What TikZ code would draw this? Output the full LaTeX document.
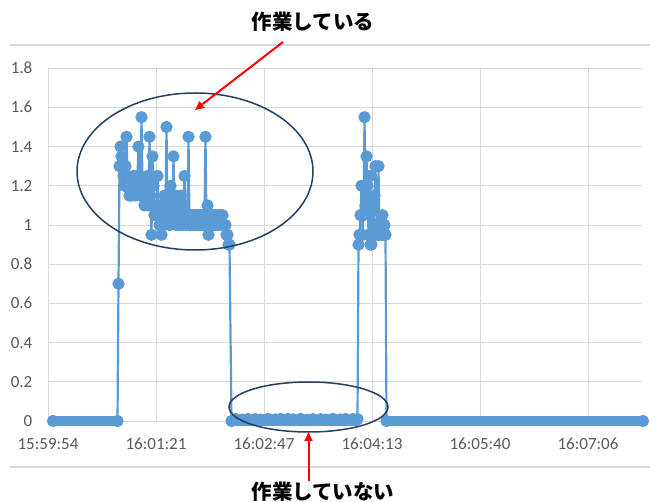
\documentclass[tikz,border=0pt]{standalone}
\usepackage{fontspec}
\setmainfont{Carlito}
\newfontfamily\jpfont{Noto Sans CJK JP}
\usetikzlibrary{arrows.meta,shapes.geometric}
\definecolor{seriesc}{HTML}{5B9BD5}
\definecolor{gridc}{HTML}{D9D9D9}
\definecolor{labelc}{HTML}{595959}
\definecolor{ringc}{HTML}{243F60}
\tikzset{
  gridline/.style={draw=gridc, line width=0.9pt},
  frameline/.style={draw=gridc, line width=1.3pt},
  seriesline/.style={draw=seriesc, line width=2.2pt, line join=round},
  dot/.style={fill=seriesc},
  zerobar/.style={draw=seriesc, line width=9.6pt, line cap=round},
  ylab/.style={text=labelc, font=\fontsize{17}{20}\selectfont, anchor=base east, inner sep=0pt},
  xlab/.style={text=labelc, font=\fontsize{17}{20}\selectfont, anchor=base, inner sep=0pt},
  ring/.style={draw=ringc, line width=1.5pt, ellipse, inner sep=0pt, outer sep=0pt},
  jplabel/.style={font=\jpfont\bfseries\fontsize{20.5}{24}\selectfont, text=black, inner sep=0pt},
  redarrow/.style={draw=red, line width=2pt, -{Triangle[length=9pt,width=8pt]}}
}
\begin{document}
\begin{tikzpicture}[x=1pt,y=-1pt]
\useasboundingbox (0,0) rectangle (657,502);
\fill[white] (0,0) rectangle (657,502);
% chart frame
\draw[frameline] (10,45) -- (650,45);
\draw[frameline] (10,467) -- (650,467);
% grid
\foreach \v in {0,...,9} \draw[gridline] (48,{421-39.2*\v}) -- (642,{421-39.2*\v});
\foreach \x in {48,156,264,372,480,588} \draw[gridline] (\x,68) -- (\x,421);
% y labels
\foreach \v/\t in {0/0,1/0.2,2/0.4,3/0.6,4/0.8,5/1,6/1.2,7/1.4,8/1.6,9/1.8}
  \node[ylab] (y\v) at (32.5,{421-39.2*\v+5.5}) {\t};
% x labels
\foreach \x/\t [count=\i] in {48/15:59:54,156/16:01:21,264/16:02:47,372/16:04:13,480/16:05:40,588/16:07:06}
  \node[xlab] (x\i) at (\x,449.5) {\t};
% data
\begin{scope}[shift={(0,421)}, y=196pt]
\draw[zerobar] (53,0) -- (117.5,0);
\draw[zerobar] (232,0) -- (357,0);
\draw[zerobar] (389,0) -- (643,0);
\foreach \x in {233,235.5,...,356} \fill[dot] (\x,{0.009+0.008*sin(mod(\x,13)*57)}) circle[radius=5pt];
\draw[seriesline] plot[mark=*, mark size=5pt, mark options={fill=seriesc, draw=none}] coordinates {
(53,0) (117.5,0) (118.5,0.70) (119.5,1.30) (120.5,1.40) (121.5,1.35) (122.5,1.30) (123.5,1.25) (124.5,1.20) (125.5,1.30) (126.5,1.45) (127.5,1.25) (128.5,1.20) (129.5,1.15) (130.5,1.20) (131.5,1.15) (132.5,1.20) (133.5,1.25) (134.5,1.20) (135.5,1.15) (136.5,1.20) (137.5,1.25) (138.5,1.40) (139.5,1.20) (140.5,1.15) (141.5,1.55) (142.5,1.20) (143.5,1.15) (144.5,1.10) (145.5,1.20) (146.5,1.15) (147.5,1.25) (148.5,1.10) (149.5,1.45) (150.5,1.15) (151.5,0.95) (152.5,1.35) (153.5,1.20) (154.5,1.05) (155.5,1.10) (156.5,1.05) (157.5,1.25) (158.5,1.10) (159.5,1.00) (160.5,1.05) (161.5,0.95) (162.5,1.10) (163.5,1.00) (164.5,1.15) (165.5,1.05) (166.5,1.50) (167.5,1.05) (168.5,1.15) (169.5,1.00) (170.5,1.20) (171.5,1.05) (172.5,1.10) (173.5,1.35) (174.5,1.05) (175.5,1.15) (176.5,1.00) (177.5,1.10) (178.5,1.05) (179.5,1.00) (180.5,1.15) (181.5,1.05) (182.5,1.00) (183.5,1.10) (184.5,1.25) (185.5,1.05) (186.5,1.00) (187.5,1.05) (188.5,1.45) (189.5,1.00) (190.5,1.05) (191.5,1.00) (192.5,1.05) (193.5,1.00) (194.5,1.05) (195.5,1.00) (196.5,1.05) (197.5,1.00) (198.5,1.05) (199.5,1.00) (200.5,1.05) (201.5,1.00) (202.5,1.05) (203.5,1.00) (204.5,1.05) (205.5,1.45) (206.5,1.00) (207.5,1.10) (208.5,0.95) (209.5,1.05) (210.5,1.00) (211.5,1.05) (212.5,1.00) (213.5,1.05) (214.5,1.00) (215.5,1.05) (216.5,1.00) (217.5,1.05) (218.5,1.00) (219.5,1.05) (220.5,1.05) (221.5,1.00) (222.5,1.05) (223.5,1.00) (224.5,1.00) (225.5,1.00) (226.5,0.95) (227.5,0.95) (228.5,0.90) (229.5,0.90) (231.5,0) (357.5,0.01)
(358.5,0.90) (359.5,0.95) (360.5,1.05) (361.5,1.20) (362.5,0.95) (363.5,1.05) (364.5,1.55) (365.5,1.10) (366.5,1.35) (367.5,1.20) (368.5,0.95) (369.5,1.25) (370.5,0.90) (371.5,0.90) (372.5,1.10) (373.5,1.00) (374.5,1.15) (375.5,1.30) (376.5,1.00) (377.5,0.95) (378.5,1.30) (379.5,0.95) (380.5,1.00) (381.5,0.95) (382.5,1.05) (383.5,0.95) (384.5,1.00) (385.5,0.95) (386.5,0) (643,0)};
\end{scope}
% ellipses
\node[ring, minimum width=236pt, minimum height=157pt] (busy) at (195,171.5) {};
\node[ring, minimum width=159pt, minimum height=50pt] (idle) at (308.5,407) {};
% labels and arrows
\node[jplabel] (busyLabel) at (313,22) {作業している};
\node[jplabel] (idleLabel) at (323,492) {作業していない};
\coordinate (busyTail) at (283,42);
\coordinate (busyTip) at (195,110);
\coordinate (idleTail) at (308.5,481);
\draw[redarrow] (busyTail) -- (busyTip);
\draw[redarrow] (idleTail) -- (idle.south);
\end{tikzpicture}
\end{document}
